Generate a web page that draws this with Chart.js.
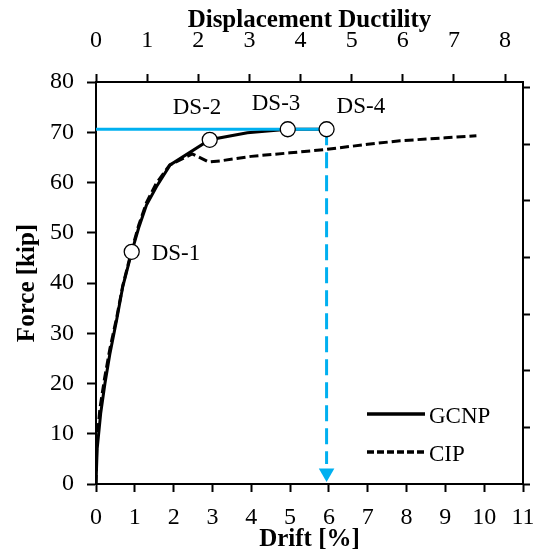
<!DOCTYPE html>
<html>
<head>
<meta charset="utf-8">
<script src="https://cdn.jsdelivr.net/npm/chart.js@4"></script>
<style>
  body { margin: 0; background: #fff; }
  #wrap { width: 533px; height: 556px; }
</style>
</head>
<body>
<div id="wrap"><canvas id="myChart" width="533" height="556"></canvas></div>
<script>
// ---- données ----
const gcnpDrift = [0, 0.03, 0.12, 0.23, 0.36, 0.53, 0.69, 0.92, 1.1, 1.3, 1.56, 1.91, 2.93, 3.9, 4.94, 5.94];
const gcnpForce = [0, 7, 14, 20, 26, 32.6, 39.3, 46.2, 51, 55.5, 59.2, 63.5, 68.5, 69.9, 70.6, 70.6];

const cipDrift = [0, 0.02, 0.1, 0.22, 0.36, 0.53, 0.69, 0.92, 1.1, 1.3, 1.55, 1.9, 2.48, 2.9, 3.2, 4, 5, 5.94, 7, 7.83, 9, 9.8];
const cipForce = [0, 8, 15, 21, 27, 33, 39.5, 46.5, 51.5, 56, 59.8, 63.5, 65.7, 64.1, 64.3, 65.2, 65.9, 66.6, 67.6, 68.3, 68.9, 69.3];

const dsLabels = ['DS-1', 'DS-2', 'DS-3', 'DS-4'];
const dsDrift = [0.92, 2.93, 4.94, 5.94];
const dsForce = [46.2, 68.5, 70.6, 70.6];

// ligne bleue : force max et drift correspondant
const peakForce = 70.6;
const peakDrift = 5.94;
const arrowEndForce = 4;
const arrowTipForce = 2.2;

const legendLabels = ['GCNP', 'CIP'];

// ---- styles ----
const BLUE = '#00b0f0';
const SERIF = "'Liberation Serif', 'Times New Roman', serif";

// décalages des étiquettes DS (en pixels) par rapport au marqueur
const dsLabelOffsets = [[20, 8], [-37, -26], [-36, -19], [10, -16]];

const toXY = (xs, ys) => xs.map((x, i) => ({ x: x, y: ys[i] }));

const dsLabelPlugin = {
    id: 'dsLabels',
    afterDatasetsDraw(chart) {
        const { ctx, scales } = chart;
        ctx.save();
        ctx.font = `23px ${SERIF}`;
        ctx.fillStyle = '#000';
        ctx.textBaseline = 'alphabetic';
        ctx.textAlign = 'left';
        dsLabels.forEach((label, i) => {
            const px = scales.x.getPixelForValue(dsDrift[i]) + dsLabelOffsets[i][0];
            const py = scales.y.getPixelForValue(dsForce[i]) + dsLabelOffsets[i][1];
            ctx.fillText(label, px, py);
        });

        // légende dans la zone du graphique
        const lx0 = 367, lx1 = 425;
        const rows = [414, 452];
        ctx.lineWidth = 3.5;
        ctx.strokeStyle = '#000';
        rows.forEach((ry, i) => {
            ctx.setLineDash(i === 1 ? [7, 3] : []);
            ctx.beginPath();
            ctx.moveTo(lx0, ry);
            ctx.lineTo(lx1, ry);
            ctx.stroke();
            ctx.setLineDash([]);
            ctx.fillText(legendLabels[i], 429, ry + 9);
        });
        ctx.restore();
    }
};

const tickFont = { family: SERIF, size: 24 };
const titleFont = { family: SERIF, size: 25, weight: 'bold' };
const axisBorder = { display: true, color: '#000', width: 2 };
const onlyIntegers = (scale) => {
    scale.ticks = scale.ticks.filter(t => Number.isInteger(t.value));
};
// pas de marge latérale pour les étiquettes qui débordent
const fixHeight = (h) => (scale) => {
    scale.height = h;
    scale.paddingLeft = 0;
    scale.paddingRight = 0;
};

const ctx = document.getElementById('myChart').getContext('2d');
new Chart(ctx, {
    type: 'line',
    data: {
        datasets: [
            {
                label: 'DS',
                data: toXY(dsDrift, dsForce),
                showLine: false,
                pointRadius: 7.5,
                pointBackgroundColor: '#fff',
                pointBorderColor: '#000',
                pointBorderWidth: 1.3,
                order: 0
            },
            {
                label: 'peak',
                data: toXY([0, peakDrift], [peakForce, peakForce]),
                borderColor: BLUE,
                borderWidth: 3,
                pointRadius: 0,
                order: 1
            },
            {
                label: 'drop',
                data: toXY([peakDrift, peakDrift], [peakForce, arrowEndForce]),
                borderColor: BLUE,
                borderWidth: 3,
                borderDash: [16, 7],
                pointRadius: 0,
                order: 1
            },
            {
                label: 'arrow',
                data: toXY([peakDrift], [arrowTipForce]),
                showLine: false,
                pointStyle: 'triangle',
                rotation: 180,
                pointRadius: 9,
                pointBackgroundColor: BLUE,
                pointBorderWidth: 0,
                pointBorderColor: BLUE,
                order: 1
            },
            {
                label: 'GCNP',
                data: toXY(gcnpDrift, gcnpForce),
                borderColor: '#000',
                borderWidth: 3,
                pointRadius: 0,
                tension: 0,
                order: 2
            },
            {
                label: 'CIP',
                data: toXY(cipDrift, cipForce),
                borderColor: '#000',
                borderWidth: 3,
                borderDash: [9, 4],
                pointRadius: 0,
                tension: 0,
                order: 3
            }
        ]
    },
    options: {
        responsive: false,
        animation: false,
        devicePixelRatio: 1,
        layout: { padding: 0 },
        plugins: {
            legend: { display: false },
            tooltip: { enabled: false }
        },
        scales: {
            x: {
                type: 'linear',
                position: 'bottom',
                min: 0, max: 11,
                ticks: { stepSize: 1, font: tickFont, color: '#000', padding: 11, maxRotation: 0, autoSkip: false },
                grid: { drawOnChartArea: false, drawTicks: true, tickLength: 8, tickWidth: 2, tickColor: '#000' },
                border: axisBorder,
                title: { display: true, text: 'Drift [%]', font: titleFont, color: '#000', padding: { top: 0, bottom: 1 } },
                afterFit: fixHeight(72)
            },
            x2: {
                type: 'linear',
                position: 'top',
                min: 0, max: 8.352,
                afterBuildTicks: onlyIntegers,
                ticks: { stepSize: 1, includeBounds: false, font: tickFont, color: '#000', padding: 19, maxRotation: 0, autoSkip: false },
                grid: { drawOnChartArea: false, drawTicks: true, tickLength: 8, tickWidth: 2, tickColor: '#000' },
                border: axisBorder,
                title: { display: true, text: 'Displacement Ductility', font: titleFont, color: '#000', padding: { top: 6, bottom: 0 } },
                afterFit: fixHeight(82)
            },
            y: {
                type: 'linear',
                position: 'left',
                min: 0, max: 80,
                ticks: { stepSize: 10, font: tickFont, color: '#000', padding: 13 },
                grid: { drawOnChartArea: false, drawTicks: true, tickLength: 9, tickWidth: 2, tickColor: '#000' },
                border: axisBorder,
                title: { display: true, text: 'Force [kip]', font: titleFont, color: '#000', padding: { top: 13, bottom: 0 } },
                afterFit: (scale) => { scale.width = 96; }
            },
            y2: {
                type: 'linear',
                position: 'right',
                min: 0, max: 7.1,
                afterBuildTicks: onlyIntegers,
                ticks: { stepSize: 1, includeBounds: false, display: false },
                grid: { drawOnChartArea: false, drawTicks: true, tickLength: 7, tickWidth: 2, tickColor: '#000' },
                border: axisBorder,
                afterFit: (scale) => { scale.width = 10; }
            }
        }
    },
    plugins: [dsLabelPlugin]
});
</script>
</body>
</html>
